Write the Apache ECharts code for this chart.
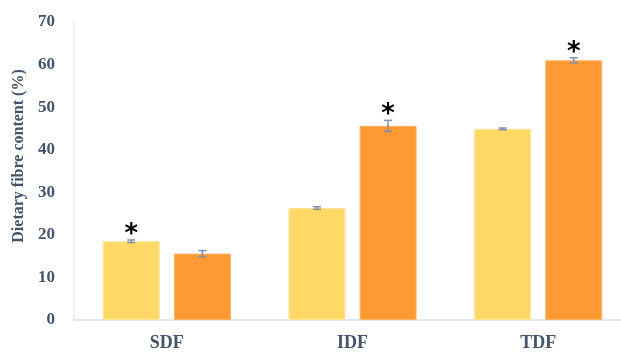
<!DOCTYPE html>
<html>
<head>
<meta charset="utf-8">
<script src="https://cdn.jsdelivr.net/npm/echarts@6/dist/echarts.min.js"></script>
<style>
html, body { margin: 0; padding: 0; background: #fff; }
#chart { width: 621px; height: 354px; }
</style>
</head>
<body>
<div id="chart"></div>
<script>
// 数据
var categories = ['SDF', 'IDF', 'TDF'];
var seriesA = [18.5, 26.3, 44.9];   // 黄色
var seriesB = [15.6, 45.6, 61.0];   // 橙色
var errorA = [0.3, 0.3, 0.2];
var errorB = [0.7, 1.3, 0.6];
var starA = [true, false, false];
var starB = [false, true, true];
var yTicks = [0, 10, 20, 30, 40, 50, 60, 70];

var colorA = '#FFD966', colorB = '#FF9933';
var textColor = '#44546A';
var labelFont = 'Liberation Serif';
var barGap = '25%', barCategoryGap = '31%';

var chart = echarts.init(document.getElementById('chart'));

// 误差线 + 星号
function errorItems(values, errors, stars, index) {
	return values.map(function(v, i) {
		return [i, v - errors[i], v + errors[i], stars[i] ? 1 : 0, index];
	});
}

function renderError(params, api) {
	var cat = api.value(0);
	var low = api.coord([cat, api.value(1)]);
	var high = api.coord([cat, api.value(2)]);
	var layout = api.barLayout({
		barGap : barGap,
		barCategoryGap : barCategoryGap,
		count : 2
	});
	var x = high[0] + layout[api.value(4)].offsetCenter;
	var cap = 4;
	var style = { stroke : '#7F8FA9', lineWidth : 1.5 };
	var children = [
		{ type : 'line', shape : { x1 : x, y1 : high[1], x2 : x, y2 : low[1] }, style : style },
		{ type : 'line', shape : { x1 : x - cap, y1 : high[1], x2 : x + cap, y2 : high[1] }, style : style },
		{ type : 'line', shape : { x1 : x - cap, y1 : low[1], x2 : x + cap, y2 : low[1] }, style : style }
	];
	if (api.value(3)) {
		children.push({
			type : 'text',
			style : {
				text : '*',
				x : x,
				y : high[1] + 8,
				align : 'center',
				verticalAlign : 'bottom',
				fontSize : 26,
				fontWeight : 'bold',
				fontFamily : 'DejaVu Sans',
				fill : '#000'
			}
		});
	}
	return { type : 'group', children : children };
}

chart.setOption({
	animation : false,
	grid : {
		left : 74,
		right : -10,
		top : 22,
		bottom : 34,
		outerBoundsMode : 'none'
	},
	xAxis : {
		type : 'category',
		data : categories,
		axisLine : { lineStyle : { color : '#D9DEE8', width : 1.5 } },
		axisTick : { show : false },
		axisLabel : {
			margin : 14,
			color : textColor,
			fontSize : 18,
			fontWeight : 'bold',
			fontFamily : labelFont
		}
	},
	yAxis : {
		type : 'value',
		min : 0,
		max : 70,
		interval : 10,
		name : 'Dietary fibre content (%)',
		nameLocation : 'middle',
		nameGap : 37,
		nameTextStyle : {
			color : textColor,
			fontSize : 16,
			fontWeight : 'bold',
			fontFamily : labelFont,
			padding : [0, 0, 0, 30]
		},
		axisLine : { show : true, lineStyle : { color : '#E4E8EE', width : 1.5 } },
		axisTick : { show : false },
		splitLine : { show : false },
		axisLabel : {
			margin : 19,
			color : textColor,
			fontSize : 17,
			fontWeight : 'bold',
			fontFamily : labelFont,
			formatter : function(v) { return yTicks.indexOf(v) >= 0 ? String(v) : ''; }
		}
	},
	series : [ {
		type : 'bar',
		data : seriesA,
		barGap : barGap,
		barCategoryGap : barCategoryGap,
		itemStyle : { color : colorA, borderColor : '#FFE59A', borderWidth : 1 }
	}, {
		type : 'bar',
		data : seriesB,
		barGap : barGap,
		barCategoryGap : barCategoryGap,
		itemStyle : { color : colorB, borderColor : '#FFB266', borderWidth : 1 }
	}, {
		type : 'custom',
		renderItem : renderError,
		encode : { x : 0, y : [1, 2] },
		data : errorItems(seriesA, errorA, starA, 0).concat(errorItems(seriesB, errorB, starB, 1)),
		z : 10
	} ]
});
</script>
</body>
</html>
